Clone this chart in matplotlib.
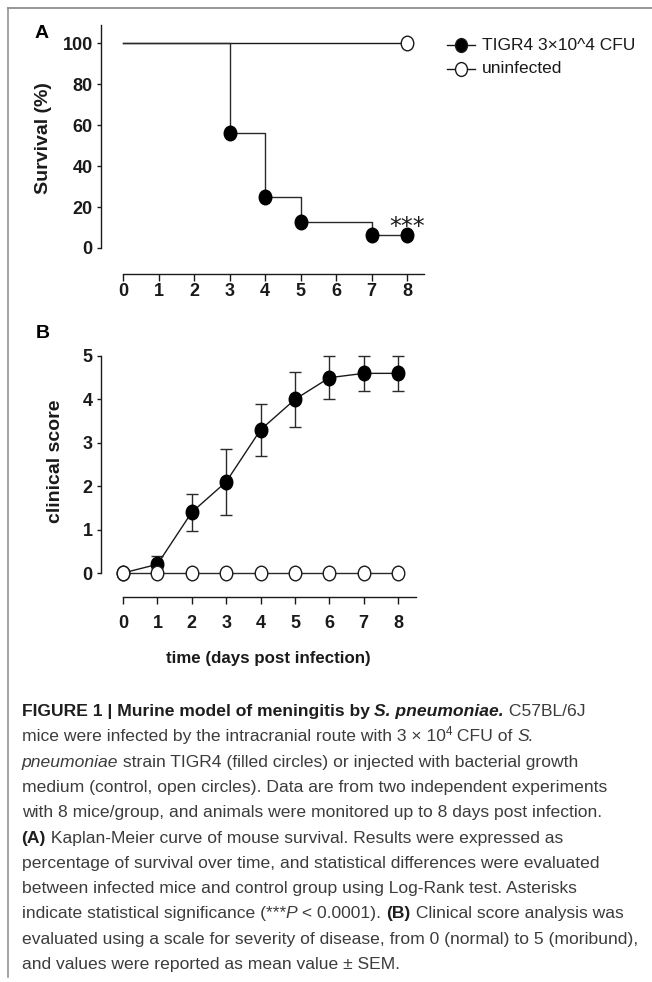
import numpy as np
import matplotlib
matplotlib.use("Agg")
import matplotlib.pyplot as plt
from matplotlib.lines import Line2D
from matplotlib.path import Path
from matplotlib.markers import MarkerStyle

# ---------------- data ----------------
days = [0, 1, 2, 3, 4, 5, 6, 7, 8]
surv_event_days = [0, 3, 4, 5, 7, 8]
surv_infected = [100, 56.25, 25, 12.5, 6.25, 6.25]
surv_ctrl_days = [0, 8]
surv_uninfected = [100, 100]
surv_yticks = [0, 20, 40, 60, 80, 100]

score_infected = [0, 0.2, 1.4, 2.1, 3.3, 4.0, 4.5, 4.6, 4.6]
score_infected_sem = [0, 0.2, 0.43, 0.76, 0.6, 0.63, 0.5, 0.4, 0.4]
score_uninfected = [0, 0, 0, 0, 0, 0, 0, 0, 0]
score_yticks = [0, 1, 2, 3, 4, 5]

legend_labels = ["TIGR4 3\u00d710^4 CFU", "uninfected"]

W, H = 652, 982
fig = plt.figure(figsize=(W / 100, H / 100), dpi=100)
fig.patch.set_facecolor("white")

REG = "Liberation Sans"


def P(x, y):
    """pixel (from top-left) -> figure fraction"""
    return x / W, 1 - y / H


def rect(l, t, r, b):
    x0, y1 = P(l, t)
    x1, y0 = P(r, b)
    return [x0, y0, x1 - x0, y1 - y0]


INK = "#1a1a1a"
uc = Path.unit_circle()
ell = Path(uc.vertices * np.array([0.86, 1.0]), uc.codes)
mk = MarkerStyle(ell)
MS = 10.5


def style_axes(ax, xpad):
    for s in ["top", "right"]:
        ax.spines[s].set_visible(False)
    for s in ["left", "bottom"]:
        ax.spines[s].set_linewidth(1.0)
        ax.spines[s].set_color(INK)
    ax.tick_params(axis="y", direction="out", length=3, width=1.0, pad=3,
                   colors=INK, labelsize=13)
    ax.tick_params(axis="x", direction="out", length=5, width=1.0, pad=xpad,
                   colors=INK, labelsize=13)
    for lab in ax.get_xticklabels() + ax.get_yticklabels():
        lab.set_fontfamily(REG)
        lab.set_fontweight("bold")


# ---------------- panel A ----------------
axA = fig.add_axes(rect(101, 25, 424.75, 248))
axA.set_xlim(-0.62, 8.5)
axA.set_ylim(0, 109)
axA.plot(surv_ctrl_days, surv_uninfected, color=INK, lw=1.0, zorder=2)
axA.plot(surv_ctrl_days[-1:], surv_uninfected[-1:], ls="none", marker=mk,
         ms=MS, mfc="white", mec=INK, mew=1.0, zorder=4, clip_on=False)
axA.plot(surv_event_days, surv_infected, drawstyle="steps-post", color="#2a2a2a",
         lw=1.0, zorder=3)
axA.plot(surv_event_days[1:], surv_infected[1:], ls="none", marker=mk, ms=MS,
         mfc="black", mec="black", zorder=5, clip_on=False)
axA.spines["bottom"].set_position(("outward", 26 * 0.72))
axA.spines["bottom"].set_bounds(0, 8.48)
axA.set_xticks(days)
axA.set_yticks(surv_yticks)
style_axes(axA, 1.5)
axA.text(8.0, 10.2, "***", ha="center", va="center", fontsize=17,
         family="DejaVu Sans", color=INK)

# ---------------- panel B ----------------
axB = fig.add_axes(rect(101, 356, 416, 573))
axB.set_xlim(-0.64, 8.52)
axB.set_ylim(0, 5)
axB.errorbar(days, score_infected, yerr=score_infected_sem, fmt="none",
             ecolor="#2a2a2a", elinewidth=1.0, capsize=4, capthick=1.0,
             zorder=2, clip_on=False)
axB.plot(days, score_infected, color=INK, lw=1.0, marker=mk, ms=MS,
         mfc="black", mec="black", zorder=3, clip_on=False)
axB.plot(days, score_uninfected, color="#2a2a2a", lw=1.0, marker=mk, ms=MS,
         mfc="white", mec=INK, mew=1.0, zorder=4, clip_on=False)
axB.spines["bottom"].set_position(("outward", 24 * 0.72))
axB.spines["bottom"].set_bounds(0, 8.52)
axB.set_xticks(days)
axB.set_yticks(score_yticks)
style_axes(axB, 8)

# ---------------- labels ----------------
renderer = fig.canvas.get_renderer()

fig.text(*P(35, 33), "A", ha="left", va="center", fontsize=14,
         fontweight="bold", family=REG)
fig.text(*P(36, 333), "B", ha="left", va="center", fontsize=14,
         fontweight="bold", family=REG)
fig.text(*P(44, 138), "Survival (%)", rotation=90, ha="center", va="center",
         fontsize=14, fontweight="bold", family=REG, color=INK)
fig.text(*P(56, 461), "clinical score", rotation=90, ha="center", va="center",
         fontsize=14, fontweight="bold", family=REG, color=INK)

# x-axis title: fit to the reference width (~205 px)
tt = fig.text(*P(268, 658), "time (days post infection)", ha="center",
              va="center", color=INK, family=REG, fontweight="bold", fontsize=14)
w_now = tt.get_window_extent(renderer).width
tt.set_fontsize(min(15.0, 14 * 205.0 / w_now))

# ---------------- legend (manual) ----------------
for i, (lab, fc) in enumerate(zip(legend_labels, ["black", "white"])):
    yc = 45 + 23.5 * i
    x0, y0 = P(447, yc)
    x1, _ = P(475, yc)
    xm, _ = P(461, yc)
    fig.add_artist(Line2D([x0, x1], [y0, y0], color=INK, lw=1.0,
                          transform=fig.transFigure))
    fig.add_artist(Line2D([xm], [y0], ls="none", marker=mk, ms=MS * 0.95,
                          mfc=fc, mec=INK, mew=1.0, transform=fig.transFigure))
    fig.text(*P(482, yc), lab, ha="left", va="center", fontsize=12.5,
             family=REG, color=INK)

# ---------------- frame ----------------
fig.add_artist(Line2D([7.5 / W, 1], [1 - 8 / H, 1 - 8 / H], color="#7a7a7a",
                      lw=1.1, transform=fig.transFigure))
fig.add_artist(Line2D([7.5 / W, 7.5 / W], [1 - 8 / H, 1 - 977 / H],
                      color="#8a8a8a", lw=1.1, transform=fig.transFigure))

# ---------------- caption ----------------
CAP = 12.6
GREY = "#3c3c3c"
BLK = "#1e1e1e"


def kw_for(style):
    kw = dict(fontsize=CAP, family=REG, color=GREY)
    if "b" in style:
        kw["fontweight"] = "bold"
        kw["color"] = BLK
    if "i" in style:
        kw["fontstyle"] = "italic"
    if "s" in style:
        kw["fontsize"] = CAP * 0.66
    return kw


def width_of(s, kw):
    t1 = fig.text(0, 0, "|" + s + "|", **kw)
    t2 = fig.text(0, 0, "||", **kw)
    w = t1.get_window_extent(renderer).width - t2.get_window_extent(renderer).width
    t1.remove()
    t2.remove()
    return w


caption = [
    [("FIGURE 1 | Murine model of meningitis by ", "b"), ("S. pneumoniae.", "bi"),
     (" C57BL/6J", "")],
    [("mice were infected by the intracranial route with 3 \u00d7 10", ""), ("4", "s"),
     (" CFU of ", ""), ("S.", "i")],
    [("pneumoniae", "i"), (" strain TIGR4 (filled circles) or injected with bacterial growth", "")],
    [("medium (control, open circles). Data are from two independent experiments", "")],
    [("with 8 mice/group, and animals were monitored up to 8 days post infection.", "")],
    [("(A)", "b"), (" Kaplan-Meier curve of mouse survival. Results were expressed as", "")],
    [("percentage of survival over time, and statistical differences were evaluated", "")],
    [("between infected mice and control group using Log-Rank test. Asterisks", "")],
    [("indicate statistical significance (***", ""), ("P", "i"), (" < 0.0001). ", ""),
     ("(B)", "b"), (" Clinical score analysis was", "")],
    [("evaluated using a scale for severity of disease, from 0 (normal) to 5 (moribund),", "")],
    [("and values were reported as mean value \u00b1 SEM.", "")],
]

for i, runs in enumerate(caption):
    base = 716 + 25.3 * i
    x = 21.6
    for s, st in runs:
        kw = kw_for(st)
        yb = base - (6 if "s" in st else 0)
        fig.text(x / W, 1 - yb / H, s, ha="left", va="baseline", **kw)
        x += width_of(s, kw)

fig.savefig("out.png", dpi=100, facecolor="white")
